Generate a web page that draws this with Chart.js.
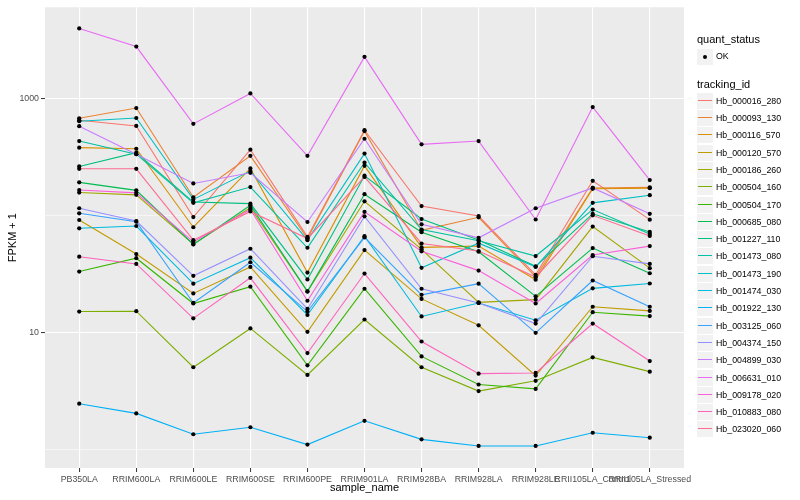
<!DOCTYPE html>
<html>
<head>
<meta charset="utf-8">
<script src="https://cdn.jsdelivr.net/npm/chart.js@4.4.0/dist/chart.umd.min.js"></script>
<style>
  body { margin: 0; background: #fff; font-family: "Liberation Sans", Arial, sans-serif; }
  #wrap { position: relative; width: 800px; height: 500px; }
  #legend { position: absolute; left: 697px; top: 0; width: 103px; height: 500px; color: #000; }
  .ttl { position: absolute; left: 0; font-size: 11px; line-height: 13px; white-space: nowrap; }
  .key { position: absolute; left: 0; width: 16px; height: 16px; background: #f2f2f2; }
  .lab { position: absolute; left: 19px; font-size: 8.8px; line-height: 17px; white-space: nowrap; }
</style>
</head>
<body>
<div id="wrap">
  <canvas id="lineChart" width="800" height="500"></canvas>
  <div id="legend"></div>
</div>
<script>
  // samples on the x axis
  var samples = ['PB350LA', 'RRIM600LA', 'RRIM600LE', 'RRIM600SE', 'RRIM600PE', 'RRIM901LA',
    'RRIM928BA', 'RRIM928LA', 'RRIM928LE', 'RRII105LA_Control', 'RRII105LA_Stressed'];

  var trackingIds = ['Hb_000016_280', 'Hb_000093_130', 'Hb_000116_570', 'Hb_000120_570', 'Hb_000186_260',
    'Hb_000504_160', 'Hb_000504_170', 'Hb_000685_080', 'Hb_001227_110', 'Hb_001473_080',
    'Hb_001473_190', 'Hb_001474_030', 'Hb_001922_130', 'Hb_003125_060', 'Hb_004374_150',
    'Hb_004899_030', 'Hb_006631_010', 'Hb_009178_020', 'Hb_010883_080', 'Hb_023020_060'];

  // FPKM + 1 per tracking id, one value per sample
  var hb_000016_280 = [655, 586, 97.5, 367, 66, 539, 121, 99.5, 31.3, 199, 92.7];
  var hb_000093_130 = [681, 833, 144, 325, 64, 529, 75, 97, 30, 173, 175];
  var hb_000116_570 = [382, 374, 79.8, 254, 32.7, 267, 53.7, 55.1, 28.4, 170, 172];
  var hb_000120_570 = [92, 47.1, 21.7, 36.6, 10.2, 50.9, 19.5, 11.6, 4.31, 16.7, 15.4];
  var hb_000186_260 = [158, 151, 57.3, 117, 22.5, 133, 51.7, 18.2, 19.2, 80.9, 35.7];
  var hb_000504_160 = [15.2, 15.3, 5.08, 10.9, 4.37, 13, 5.08, 3.18, 3.89, 6.17, 4.66];
  var hb_000504_170 = [33.4, 43.4, 17.8, 24.8, 5.28, 23.8, 6.29, 3.62, 3.32, 15, 13.9];
  var hb_000685_080 = [193, 165, 56.9, 123, 22.6, 153, 72.4, 49.3, 20.5, 53, 32.3];
  var hb_001227_110 = [264, 346, 131, 127, 28.6, 220, 93.8, 62, 37, 104, 72.8];
  var hb_001473_080 = [435, 336, 129, 176, 53.3, 285, 76.3, 61.1, 45.3, 113, 70];
  var hb_001473_190 = [643, 685, 138, 241, 61.9, 340, 35.9, 58.4, 36.6, 129, 150];
  var hb_001474_030 = [78.2, 81.8, 26.3, 43.9, 14.2, 66.9, 13.8, 18, 12.8, 24, 26.4];
  var hb_001922_130 = [2.48, 2.05, 1.36, 1.56, 1.11, 1.77, 1.23, 1.08, 1.08, 1.40, 1.27];
  var hb_003125_060 = [105, 89, 18, 40.1, 15.2, 65.3, 21.1, 26.3, 10, 28, 16.7];
  var hb_004374_150 = [116, 90.2, 30.7, 52.3, 16, 98.9, 23.8, 18, 12, 45.1, 38.8];
  var hb_004899_030 = [583, 336, 189, 233, 88.5, 455, 84.6, 64.8, 116, 173, 104];
  var hb_006631_010 = [3990, 2790, 610, 1110, 325, 2280, 408, 435, 93, 849, 202];
  var hb_009178_020 = [166, 157, 59.9, 113, 18.8, 108, 49.7, 34, 17.8, 46.2, 55.1];
  var hb_010883_080 = [44.7, 38.8, 13.3, 29.5, 6.71, 32.1, 8.43, 4.48, 4.54, 12, 5.74];
  var hb_023020_060 = [252, 252, 61.9, 109, 64, 215, 58, 50, 30, 101, 67.3];

  var fpkm = [hb_000016_280, hb_000093_130, hb_000116_570, hb_000120_570, hb_000186_260,
    hb_000504_160, hb_000504_170, hb_000685_080, hb_001227_110, hb_001473_080,
    hb_001473_190, hb_001474_030, hb_001922_130, hb_003125_060, hb_004374_150,
    hb_004899_030, hb_006631_010, hb_009178_020, hb_010883_080, hb_023020_060];

  // ggplot default hue palette, 20 levels
  var palette = ['#F8766D', '#EA8331', '#D89000', '#C09B00', '#A3A500', '#7CAE00', '#39B600', '#00BB4E',
    '#00BF7D', '#00C1A3', '#00BFC4', '#00BAE0', '#00B0F6', '#35A2FF', '#9590FF', '#C77CFF',
    '#E76BF3', '#FA62DB', '#FF62BC', '#FF6C91'];

  var datasets = [];
  var allPoints = [];
  for (var i = 0; i < fpkm.length; i++) {
    var pts = [];
    for (var j = 0; j < samples.length; j++) {
      pts.push({x: j, y: fpkm[i][j]});
      allPoints.push({x: j, y: fpkm[i][j]});
    }
    datasets.push({
      label: trackingIds[i],
      data: pts,
      borderColor: palette[i],
      borderWidth: 1.1,
      pointRadius: 0,
      fill: false,
      tension: 0,
      order: fpkm.length - i
    });
  }
  // quant_status = OK points, drawn above the lines
  datasets.push({
    label: 'OK',
    type: 'scatter',
    data: allPoints,
    pointRadius: 2.1,
    pointBackgroundColor: '#000',
    pointBorderWidth: 0,
    showLine: false,
    order: 0
  });

  var panelBg = {
    id: 'panelBg',
    beforeDraw: function(chart) {
      var a = chart.chartArea, ctx = chart.ctx;
      ctx.save();
      ctx.fillStyle = '#ebebeb';
      ctx.fillRect(a.left, a.top, a.right - a.left, a.bottom - a.top);
      ctx.restore();
    }
  };

  var majorY = function(v) { return v === 10 || v === 1000; };

  var ctxL = document.getElementById('lineChart').getContext('2d');
  var myLineChart = new Chart(ctxL, {
    type: 'line',
    data: { datasets: datasets },
    plugins: [panelBg],
    options: {
      responsive: false,
      animation: false,
      layout: { padding: { left: 0, top: 5, right: 116, bottom: 0 } },
      plugins: { legend: { display: false }, tooltip: { enabled: false } },
      scales: {
        x: {
          type: 'linear',
          min: -0.6,
          max: 10.6,
          afterBuildTicks: function(s) {
            s.ticks = samples.map(function(_, k) { return {value: k}; });
          },
          afterFit: function(s) { s.height = 32; },
          ticks: {
            autoSkip: false, maxRotation: 0, minRotation: 0, padding: 2,
            color: '#4d4d4d',
            font: { family: '"Liberation Sans", Arial, sans-serif', size: 8.8 },
            callback: function(v) { return samples[v]; }
          },
          grid: { color: '#ffffff', lineWidth: 1.1, tickLength: 4, tickColor: '#333333', tickWidth: 1 },
          border: { display: false },
          title: {
            display: true, text: 'sample_name', color: '#000',
            font: { family: '"Liberation Sans", Arial, sans-serif', size: 11 },
            padding: { top: 0, bottom: 5.4 }
          }
        },
        y: {
          type: 'logarithmic',
          min: 0.7264,
          max: 6046,
          afterBuildTicks: function(s) {
            s.ticks = [1, 10, 100, 1000].map(function(v) { return {value: v}; });
          },
          afterFit: function(s) { s.width = 45; },
          ticks: {
            padding: 2, color: '#4d4d4d',
            font: { family: '"Liberation Sans", Arial, sans-serif', size: 8.8 },
            callback: function(v) { return majorY(v) ? String(v) : ''; }
          },
          grid: {
            color: '#ffffff',
            lineWidth: function(c) { return c.tick && majorY(c.tick.value) ? 1.1 : 0.55; },
            tickLength: 4,
            tickWidth: 1,
            tickColor: function(c) { return c.tick && majorY(c.tick.value) ? '#333333' : 'rgba(0,0,0,0)'; }
          },
          border: { display: false },
          title: {
            display: true, text: 'FPKM + 1', color: '#000',
            font: { family: '"Liberation Sans", Arial, sans-serif', size: 11 },
            padding: { top: 6, bottom: 0 }
          }
        }
      }
    }
  });

  // legend on the right, ggplot style
  var lg = document.getElementById('legend');
  var html = '';
  html += '<div class="ttl" style="top:33px">quant_status</div>';
  html += '<div class="key" style="top:49px"><div style="position:absolute;left:6px;top:6px;width:4px;height:4px;border-radius:2px;background:#000"></div></div>';
  html += '<div class="lab" style="top:48px">OK</div>';
  html += '<div class="ttl" style="top:78px">tracking_id</div>';
  for (var k = 0; k < trackingIds.length; k++) {
    var rowTop = Math.round(92.7 + k * 17.3);
    html += '<div class="key" style="top:' + rowTop + 'px"><div style="position:absolute;left:1px;top:7px;width:14px;height:0;border-top:1px solid ' + palette[k] + '"></div></div>';
    html += '<div class="lab" style="top:' + rowTop + 'px">' + trackingIds[k] + '</div>';
  }
  lg.innerHTML = html;
</script>
</body>
</html>
